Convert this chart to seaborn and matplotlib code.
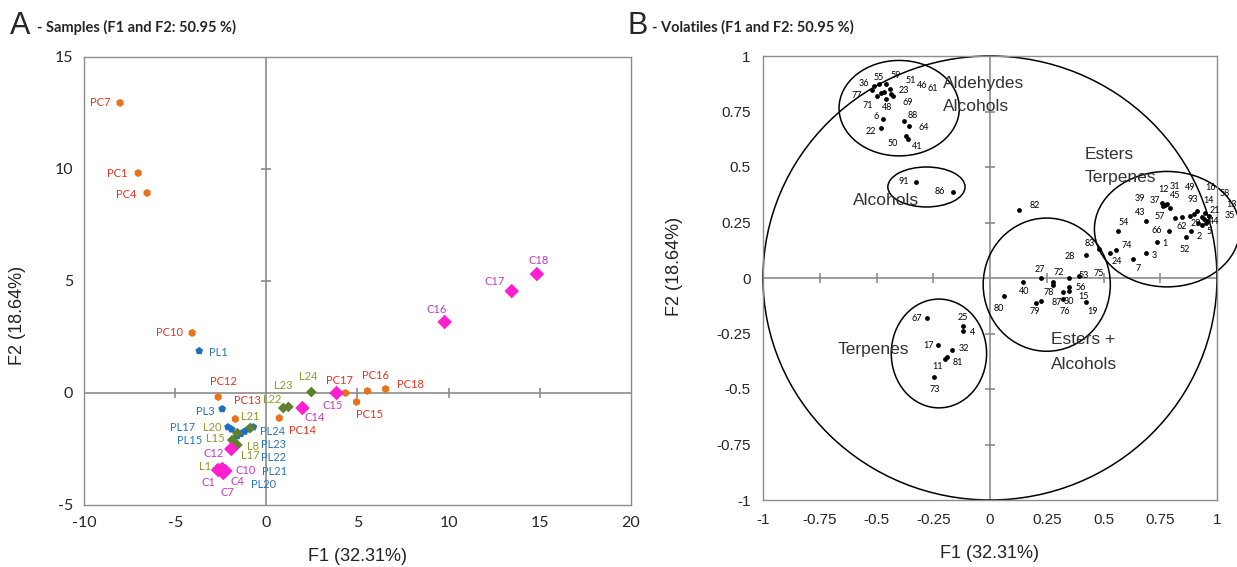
import numpy as np
import pandas as pd
import matplotlib
matplotlib.use("Agg")
import matplotlib.pyplot as plt
from matplotlib.patches import Ellipse
import seaborn as sns

# ---- A: sample scores ----
sample_names = ["PC7", "PC1", "PC4", "PC10", "PC12", "PC13", "PC14", "PC17", "PC15", "PC16", "PC18",
                "PL1", "PL3", "PL17", "PL15", "PL24", "PL23", "PL22", "PL21", "PL20",
                "L24", "L23", "L22", "L21", "L20", "L15", "L8", "L17", "L1",
                "C18", "C17", "C16", "C15", "C14", "C12", "C10", "C1", "C4", "C7"]
sample_group = ["PC"] * 11 + ["PL"] * 9 + ["L"] * 9 + ["C"] * 10
sample_f1 = [-8.02, -7.03, -6.54, -4.07, -2.64, -1.70, 0.71, 4.34, 4.95, 5.55, 6.54,
             -3.68, -2.42, -2.10, -1.90, -0.71, -1.00, -1.20, -1.40, -1.60,
             2.47, 0.93, 1.21, -0.88, -1.59, -1.87, -1.59, -1.81, -2.69,
             14.84, 13.46, 9.78, 3.85, 1.98, -1.92, -2.25, -2.64, -2.36, -2.42]
sample_f2 = [12.95, 9.82, 8.93, 2.68, -0.18, -1.16, -1.12, 0.0, -0.40, 0.09, 0.18,
             1.88, -0.71, -1.52, -1.62, -1.52, -1.62, -1.72, -1.82, -1.92,
             0.04, -0.67, -0.62, -1.56, -1.79, -2.10, -2.32, -2.41, -3.39,
             5.31, 4.55, 3.17, 0.0, -0.67, -2.50, -3.48, -3.44, -3.57, -3.39]

# ---- B: variable loadings ----
var_names = ["36", "55", "59", "51", "46", "61", "77", "23", "71", "48", "69", "6", "88", "64", "22", "50", "41",
             "91", "86",
             "67", "25", "4", "17", "32", "81", "11", "73",
             "82", "83", "28", "27", "72", "53", "75", "40", "78", "56", "15", "87", "30", "79", "76", "19", "80",
             "12", "31", "37", "45", "39", "49", "16", "58", "93", "14", "13", "21", "35", "44", "57", "43",
             "54", "62", "29", "5", "66", "2", "1", "52", "74", "3", "24", "7"]
var_f1 = [-0.513, -0.491, -0.460, -0.442, -0.465, -0.434, -0.518, -0.429, -0.500, -0.460, -0.478, -0.473,
          -0.381, -0.358, -0.478, -0.372, -0.363,
          -0.327, -0.164,
          -0.279, -0.119, -0.119, -0.230, -0.168, -0.190, -0.199, -0.248,
          0.128, 0.478, 0.425, 0.226, 0.279, 0.350, 0.394, 0.146, 0.279, 0.350, 0.350, 0.226, 0.323, 0.204,
          0.323, 0.425, 0.062,
          0.770, 0.779, 0.761, 0.792, 0.757, 0.912, 0.947, 0.965, 0.898, 0.934, 0.956, 0.942, 0.951, 0.934,
          0.814, 0.686, 0.566, 0.845, 0.881, 0.916, 0.788, 0.885, 0.735, 0.863, 0.553, 0.686, 0.527, 0.628]
var_f2 = [0.864, 0.873, 0.873, 0.851, 0.837, 0.828, 0.846, 0.819, 0.819, 0.805, 0.833, 0.715,
          0.706, 0.683, 0.674, 0.638, 0.624,
          0.434, 0.389,
          -0.181, -0.217, -0.240, -0.303, -0.326, -0.357, -0.367, -0.448,
          0.308, 0.131, 0.104, 0.0, -0.018, 0.0, 0.009, -0.018, -0.032, -0.041, -0.059, -0.104, -0.063,
          -0.113, -0.095, -0.109, -0.081,
          0.330, 0.335, 0.326, 0.317, 0.339, 0.303, 0.294, 0.281, 0.290, 0.276, 0.258, 0.267, 0.249, 0.240,
          0.271, 0.258, 0.213, 0.276, 0.281, 0.249, 0.213, 0.213, 0.163, 0.186, 0.127, 0.113, 0.113, 0.086]

# hand drawn groupings on the correlation circle
group_centre = [(-0.40, 0.765), (-0.28, 0.41), (-0.225, -0.34), (0.25, -0.03), (0.78, 0.22)]
group_size = [(0.53, 0.43), (0.34, 0.18), (0.42, 0.49), (0.56, 0.60), (0.64, 0.52)]

df_s = pd.DataFrame({"name": sample_names, "group": sample_group, "F1": sample_f1, "F2": sample_f2})
df_v = pd.DataFrame({"name": var_names, "F1": var_f1, "F2": var_f2})

sns.set_style("white")
plt.rcParams["font.family"] = ["Liberation Sans", "DejaVu Sans"]
plt.rcParams["axes.unicode_minus"] = False

marker_col = {"PC": "#E8731C", "PL": "#1F6FC0", "L": "#5E7F2B", "C": "#FF1FCF"}
text_col = {"PC": "#E2341E", "PL": "#2A74B8", "L": "#8E9A2C", "C": "#C23CC6"}
markers = {"PC": "h", "PL": "p", "L": "D", "C": "D"}
sizes = {"PC": 34, "PL": 34, "L": 30, "C": 55}
grey = "#8c8c8c"

# label offsets in points
s_off = {"PC7": (-14, 0), "PC1": (-15, 0), "PC4": (-15, -1), "PC10": (-16, 0), "PL1": (14, -1),
         "PC12": (4, 11), "PC13": (9, 13), "PC14": (17, -9), "PL3": (-12, -2), "PL17": (-33, 0),
         "L20": (-18, 4), "PL15": (-30, -8), "L15": (-12, 1), "C12": (-13, -3), "L8": (11, -1),
         "L17": (12, -6), "L21": (0, 8), "PL24": (14, -3), "PL23": (18, -11), "PL22": (21, -19),
         "PL21": (24, -27), "PL20": (19, -35), "L1": (-9, 2), "C1": (-7, -9), "C4": (10, -6),
         "C7": (4, -17), "C10": (15, 0), "L23": (0, 16), "L22": (-12, 5), "L24": (-2, 11),
         "C14": (9, -7), "C15": (-3, -9), "PC17": (-4, 9), "PC16": (6, 11), "PC15": (9, -9),
         "PC18": (18, 3), "C16": (-6, 9), "C17": (-12, 7), "C18": (1, 10)}
v_off = {"36": (-7, 2), "55": (0, 5), "59": (7, 6), "51": (15, 6), "46": (27, 5), "61": (30, 4),
         "77": (-11, -4), "23": (8, 4), "71": (-6, -7), "48": (1, -6), "69": (19, -7), "6": (-5, 2),
         "88": (7, 4), "64": (11, -1), "22": (-8, -2), "50": (-9, -5), "41": (7, -5),
         "91": (-9, 0), "86": (-9, 0),
         "67": (-7, 0), "25": (0, 6), "4": (7, -1), "17": (-7, 0), "32": (9, 1), "81": (8, -4),
         "11": (-5, -5), "73": (1, -9),
         "82": (11, 3), "83": (-6, 4), "28": (-12, -1), "27": (-1, 6), "72": (4, 7), "53": (10, 2),
         "75": (14, 2), "40": (1, -7), "78": (-3, -5), "56": (8, 0), "15": (10, -4), "87": (11, -1),
         "30": (4, -7), "79": (-1, -6), "76": (1, -9), "19": (4, -7), "80": (-4, -9),
         "12": (-1, 11), "31": (6, 12), "37": (-6, 4), "45": (4, 9), "39": (-16, 3), "49": (-5, 17),
         "16": (4, 18), "58": (11, 16), "93": (-1, 10), "14": (5, 12), "13": (18, 12), "21": (8, 6),
         "35": (17, 5), "44": (9, 2), "57": (-11, 1), "43": (-4, 6), "54": (4, 6), "62": (0, -7),
         "29": (4, -6), "5": (8, -6), "66": (-9, 0), "2": (6, -4), "1": (6, -1), "52": (-1, -9),
         "74": (8, 3), "3": (6, -2), "24": (5, -6), "7": (4, -7)}

fig = plt.figure(figsize=(12.37, 5.67), dpi=100)
ax1 = fig.add_axes([84 / 1237, 1 - 505 / 567, 547 / 1237, 448 / 567])
ax2 = fig.add_axes([763 / 1237, 1 - 500 / 567, 454 / 1237, 444 / 567])

# ---------- panel A ----------
ax1.axhline(0, color=grey, lw=1.2, zorder=1)
ax1.axvline(0, color=grey, lw=1.2, zorder=1)
ax1.plot([-5, 5, 10, 15], [0] * 4, ls="none", marker="|", ms=7, mew=1.2, color=grey, zorder=1)
ax1.plot([0] * 2, [5, 10], ls="none", marker="_", ms=7, mew=1.2, color=grey, zorder=1)
sns.scatterplot(data=df_s, x="F1", y="F2", hue="group", style="group", size="group",
                palette=marker_col, markers=markers, sizes=sizes, linewidth=0,
                legend=False, ax=ax1, zorder=3)
for _, r in df_s.iterrows():
    ax1.annotate(r["name"], (r["F1"], r["F2"]), xytext=s_off.get(r["name"], (10, 0)),
                 textcoords="offset points", ha="center", va="center",
                 fontsize=8, color=text_col[r["group"]], family=["Lato", "DejaVu Sans"])
ax1.set_xlim(-10, 20)
ax1.set_ylim(-5, 15)
ax1.set_xticks(np.arange(-10, 21, 5))
ax1.set_yticks(np.arange(-5, 16, 5))
ax1.tick_params(length=0, labelsize=11.5, pad=8)
for lab in ax1.get_xticklabels() + ax1.get_yticklabels():
    lab.set_family(["Lato", "DejaVu Sans"])
ax1.set_xlabel("F1 (32.31%)", fontsize=13, color="#222", labelpad=13)
ax1.set_ylabel("")

# ---------- panel B ----------
ax2.axhline(0, color=grey, lw=1.2, zorder=1)
ax2.axvline(0, color=grey, lw=1.2, zorder=1)
tk = [-0.75, -0.5, -0.25, 0.25, 0.5, 0.75]
ax2.plot(tk, [0] * len(tk), ls="none", marker="|", ms=7, mew=1.2, color=grey, zorder=1)
ax2.plot([0] * len(tk), tk, ls="none", marker="_", ms=7, mew=1.2, color=grey, zorder=1)
ax2.add_patch(Ellipse((0, 0), 2, 2, fill=False, ec="black", lw=1.1, clip_on=False))
for c, (w, h) in zip(group_centre, group_size):
    ax2.add_patch(Ellipse(c, w, h, fill=False, ec="black", lw=1.1, clip_on=False))
sns.scatterplot(data=df_v, x="F1", y="F2", color="black", s=12, linewidth=0, ax=ax2, zorder=3)
for _, r in df_v.iterrows():
    ax2.annotate(r["name"], (r["F1"], r["F2"]), xytext=v_off.get(r["name"], (6, 0)),
                 textcoords="offset points", ha="center", va="center",
                 fontsize=6.5, color="black", family=["Lato", "DejaVu Sans"])

grp_txt = [("Aldehydes", -0.208, 0.878), ("Alcohols", -0.208, 0.774), ("Alcohols", -0.602, 0.348),
           ("Terpenes", -0.673, -0.321), ("Esters", 0.416, 0.557), ("Terpenes", 0.416, 0.452),
           ("Esters +", 0.27, -0.276), ("Alcohols", 0.27, -0.389)]
for t, x, y in grp_txt:
    ax2.text(x, y, t, fontsize=12.5, color="#333", ha="left", va="center")

ax2.set_xlim(-1, 1)
ax2.set_ylim(-1, 1)
ticks_b = [-1, -0.75, -0.5, -0.25, 0, 0.25, 0.5, 0.75, 1]
tick_lab = ["-1", "-0.75", "-0.5", "-0.25", "0", "0.25", "0.5", "0.75", "1"]
ax2.set_xticks(ticks_b, tick_lab)
ax2.set_yticks(ticks_b, tick_lab)
ax2.tick_params(length=0, labelsize=11, pad=9)
ax2.set_xlabel("F1 (32.31%)", fontsize=13, color="#222", labelpad=13)
ax2.set_ylabel("")

for ax in (ax1, ax2):
    for sp in ax.spines.values():
        sp.set_color(grey)
        sp.set_linewidth(1.0)

fig.text(18 / 1237, 1 - 315 / 567, "F2 (18.64%)", rotation=90, ha="center", va="center",
         fontsize=13, color="#222")
fig.text(675 / 1237, 1 - 266 / 567, "F2 (18.64%)", rotation=90, ha="center", va="center",
         fontsize=13, color="#222")

fig.text(10 / 1237, 1 - 34 / 567, "A", fontsize=22, va="baseline", ha="left")
fig.text(37 / 1237, 1 - 32 / 567, "- Samples (F1 and F2: 50.95 %)", fontsize=10.5, va="baseline",
         ha="left", weight="bold", family=["Lato", "DejaVu Sans"])
fig.text(627 / 1237, 1 - 34 / 567, "B", fontsize=22, va="baseline", ha="left")
fig.text(652 / 1237, 1 - 32 / 567, "- Volatiles (F1 and F2: 50.95 %)", fontsize=10.5, va="baseline",
         ha="left", weight="bold", family=["Lato", "DejaVu Sans"])

fig.savefig("out.png", dpi=100)
